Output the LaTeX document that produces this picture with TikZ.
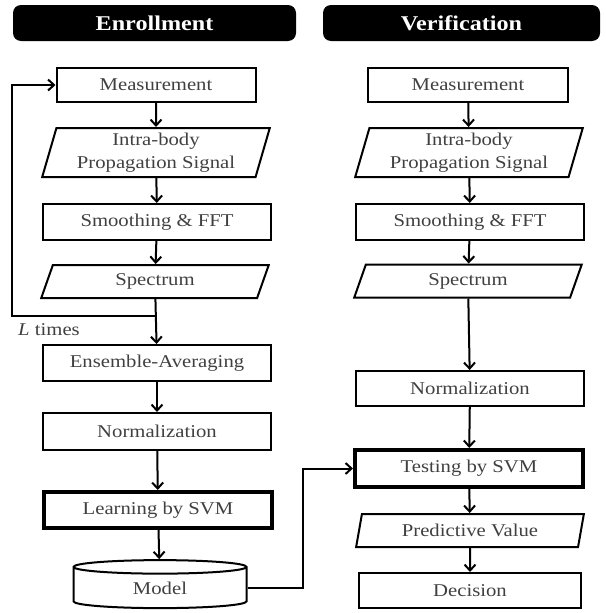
\documentclass[tikz,border=0pt]{standalone}
\usepackage{fontspec}
\setmainfont[FakeStretch=1.15]{Liberation Serif}
\usetikzlibrary{arrows.meta,shapes.geometric}

\tikzset{
  box/.style={draw, rectangle, line width=2pt, minimum width=228pt, minimum height=35pt, inner sep=0pt, text=black!75, font=\fontsize{18}{23}\selectfont, align=center},
  boldbox/.style={box, line width=4pt},
  databox/.style={box, trapezium, trapezium left angle=74, trapezium right angle=106, trapezium stretches=true},
  headbox/.style={fill=black, rounded corners=8pt, minimum width=283pt, minimum height=36pt, text=white, font=\fontsize{21}{24}\selectfont\bfseries},
  flow/.style={-{Straight Barb[length=6pt,width=11pt,line width=2pt]}, line width=2pt},
}

\begin{document}
\begin{tikzpicture}[x=1pt,y=-1pt]
\useasboundingbox (0,0) rectangle (605,613);
% headers
\node (ehead) at (154.5,23) [headbox] {Enrollment};
\node (vhead) at (461.5,23) [headbox, minimum width=277pt] {Verification};
% enrollment
\node (lmeas) at (156,85) [box, minimum width=199pt, minimum height=34pt] {Measurement};
\node (lsig) at (156,152.5) [databox, minimum height=49pt] {Intra-body\\Propagation Signal};
\node (lfft) at (157,222) [box, minimum height=36pt] {Smoothing \& FFT};
\node (lspec) at (155,281.5) [databox, minimum height=33pt] {Spectrum};
\node (lens) at (157,363) [box, minimum height=36pt] {Ensemble-Averaging};
\node (lnorm) at (157,431.5) [box, minimum height=37pt] {Normalization};
\node (learn) at (158,510) [boldbox, minimum height=36pt] {Learning by SVM};
\node (model) at (160,588) [cylinder, shape border rotate=90, aspect=0.25, draw, line width=2pt, minimum width=173pt, minimum height=48pt, inner sep=0pt, text=black!75, font=\fontsize{18}{23}\selectfont] {Model};
\node (ltimes) at (18,335) [anchor=base west, inner sep=0pt, text=black!75, font=\fontsize{18}{23}\selectfont] {\textit{L} times};
\coordinate (ljoin) at (156,316);
\coordinate (lback) at (12,316);
% verification
\node (rmeas) at (468,85) [box, minimum width=200pt, minimum height=34pt] {Measurement};
\node (rsig) at (469,152.5) [databox, minimum height=49pt] {Intra-body\\Propagation Signal};
\node (rfft) at (470,222) [box, minimum height=36pt] {Smoothing \& FFT};
\node (rspec) at (468,281) [databox, minimum height=33pt] {Spectrum};
\node (rnorm) at (470,388.5) [box, minimum height=35pt] {Normalization};
\node (test) at (469,468.5) [boldbox, minimum height=37pt] {Testing by SVM};
\node (pred) at (470,530.5) [databox, minimum height=33pt] {Predictive Value};
\node (decide) at (470,590.5) [box, minimum width=222pt, minimum height=35pt] {Decision};
% arrows
\draw[flow] (lmeas) -- (lsig);
\draw[flow] (lsig) -- (lfft);
\draw[flow] (lfft) -- (lspec);
\draw[flow] (lspec) -- (lens);
\draw[flow] (ljoin) -- (lback) |- (lmeas.west);
\draw[flow] (lens) -- (lnorm);
\draw[flow] (lnorm) -- (learn);
\draw[flow] (learn) -- (model);
\draw[flow] (model.east) -- ++(55,0) |- (test.west);
\draw[flow] (rmeas) -- (rsig);
\draw[flow] (rsig) -- (rfft);
\draw[flow] (rfft) -- (rspec);
\draw[flow] (rspec) -- (rnorm);
\draw[flow] (rnorm) -- (test);
\draw[flow] (test) -- (pred);
\draw[flow] (pred) -- (decide);
\end{tikzpicture}
\end{document}
